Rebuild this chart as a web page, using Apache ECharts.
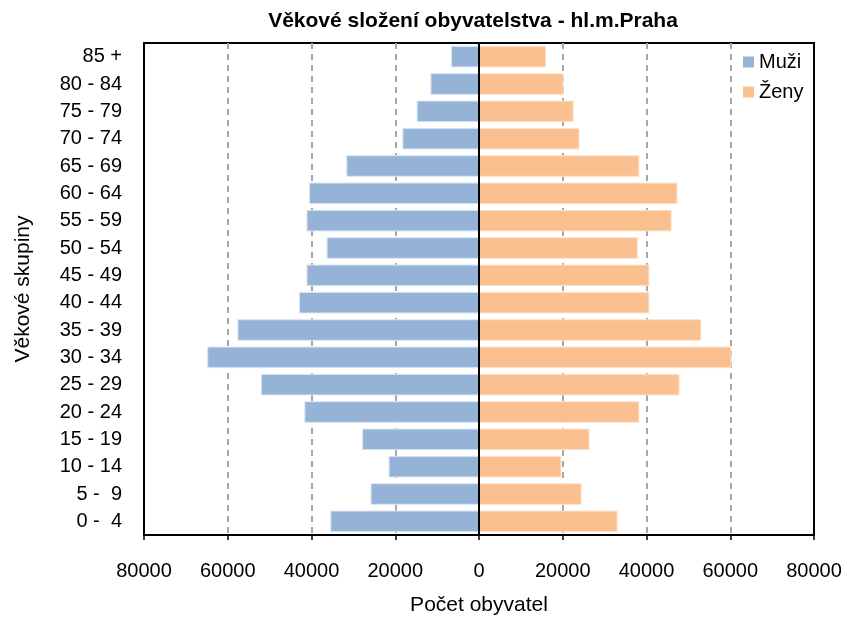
<!DOCTYPE html>
<html>
<head>
<meta charset="utf-8">
<title>Věkové složení obyvatelstva - hl.m.Praha</title>
<script src="https://cdn.jsdelivr.net/npm/echarts@6/dist/echarts.min.js"></script>
<style>
  html, body { margin: 0; padding: 0; background: #fff; }
  #chart { width: 850px; height: 621px; }
</style>
</head>
<body>
<div id="chart"></div>
<script>
// věkové skupiny (zdola nahoru)
const ageGroups = ['0 -  4', '5 -  9', '10 - 14', '15 - 19', '20 - 24', '25 - 29', '30 - 34', '35 - 39',
  '40 - 44', '45 - 49', '50 - 54', '55 - 59', '60 - 64', '65 - 69', '70 - 74', '75 - 79', '80 - 84', '85 +']
// muži jako záporné hodnoty, aby šli doleva
const men = [-35500, -25900, -21600, -27900, -41700, -52100, -64900, -57700,
  -43000, -41200, -36400, -41200, -40600, -31700, -18300, -14900, -11600, -6700]
const women = [33100, 24500, 19700, 26400, 38300, 47900, 60300, 53100,
  40700, 40700, 37900, 46000, 47400, 38300, 24000, 22600, 20200, 16000]
const xTicks = [-80000, -60000, -40000, -20000, 0, 20000, 40000, 60000, 80000]

const font = 'Liberation Sans, Arial, sans-serif'
const chart = echarts.init(document.getElementById('chart'))

chart.setOption({
  animation: false,
  textStyle: { fontFamily: font, color: '#000' },
  title: {
    text: 'Věkové složení obyvatelstva - hl.m.Praha',
    left: 473,
    textAlign: 'center',
    top: 11,
    padding: 0,
    textStyle: { fontFamily: font, fontSize: 21, fontWeight: 'bold', color: '#000' }
  },
  legend: {
    orient: 'vertical',
    left: 743,
    top: 52,
    padding: 0,
    itemWidth: 11,
    itemHeight: 11,
    itemGap: 10,
    icon: 'rect',
    itemStyle: { borderWidth: 0 },
    textStyle: { fontFamily: font, fontSize: 20, color: '#000' },
    data: ['Muži', 'Ženy']
  },
  grid: {
    left: 144, right: 36, top: 43, bottom: 84,
    show: true,
    borderColor: '#000',
    borderWidth: 2,
    backgroundColor: '#fff'
  },
  xAxis: {
    type: 'value',
    min: xTicks[0],
    max: xTicks[xTicks.length - 1],
    interval: 20000,
    name: 'Počet obyvatel',
    nameLocation: 'middle',
    nameGap: 60,
    nameTextStyle: { fontFamily: font, fontSize: 21, color: '#000' },
    axisLine: { show: true, lineStyle: { color: '#000', width: 2 } },
    axisTick: { show: true, length: 5, lineStyle: { color: '#000', width: 1.5 } },
    axisLabel: {
      margin: 26,
      fontFamily: font,
      fontSize: 20,
      color: '#000',
      formatter: v => String(Math.abs(v))
    },
    splitLine: {
      show: true,
      showMinLine: false,
      showMaxLine: false,
      lineStyle: { color: '#a6a6a6', type: [6, 5], width: 2 }
    }
  },
  yAxis: {
    type: 'category',
    data: ageGroups,
    z: 5,
    name: 'Věkové skupiny',
    nameLocation: 'middle',
    nameGap: 110,
    nameTextStyle: { fontFamily: font, fontSize: 21, color: '#000' },
    axisLine: { show: true, onZero: true, lineStyle: { color: '#000', width: 2 } },
    axisTick: { show: false },
    axisLabel: {
      margin: 22,
      fontFamily: font,
      fontSize: 20,
      color: '#000'
    },
    splitLine: { show: false }
  },
  series: [
    {
      name: 'Muži',
      type: 'bar',
      data: men,
      barWidth: '79%',
      barGap: '-100%',
      itemStyle: { color: '#95b3d7', borderColor: '#dbe5f1', borderWidth: 1 }
    },
    {
      name: 'Ženy',
      type: 'bar',
      data: women,
      barWidth: '79%',
      itemStyle: { color: '#fac090', borderColor: '#fde3cc', borderWidth: 1 }
    }
  ]
})

window.addEventListener('resize', () => chart.resize())
</script>
</body>
</html>
